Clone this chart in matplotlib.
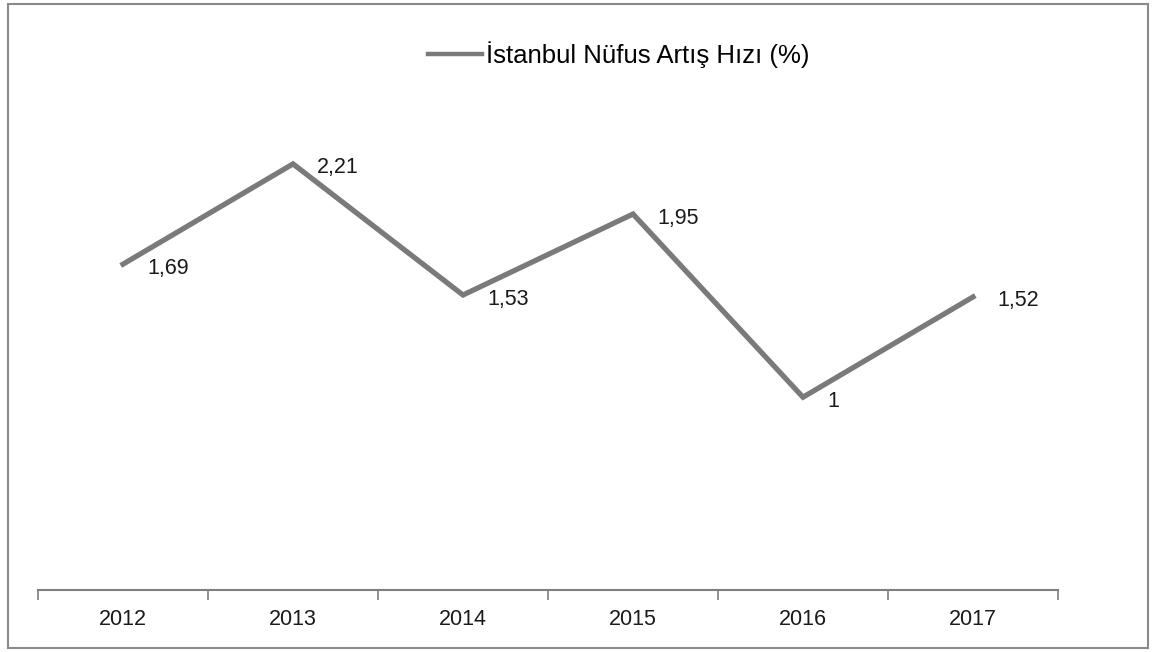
import matplotlib
matplotlib.use("Agg")
import matplotlib.pyplot as plt
from matplotlib.patches import Rectangle

years = ["2012", "2013", "2014", "2015", "2016", "2017"]
values = [1.69, 2.21, 1.53, 1.95, 1.00, 1.52]
labels = ["1,69", "2,21", "1,53", "1,95", "1", "1,52"]
series_name = "İstanbul Nüfus Artış Hızı (%)"

plt.rcParams['font.family'] = ['Liberation Sans', 'DejaVu Sans']

W, H = 1152, 652
fig = plt.figure(figsize=(W/100, H/100), dpi=100)
fig.patch.set_facecolor('white')
fig.add_artist(Rectangle((8/W, 4/H), 1140/W, 644/H, transform=fig.transFigure,
                         fill=False, edgecolor='#8a8a8a', linewidth=1.5))

ax_left, ax_right = 38, 1058
ax_bottom, ax_top = 590, 108
ax = fig.add_axes([ax_left/W, (H-ax_bottom)/H, (ax_right-ax_left)/W, (ax_bottom-ax_top)/H])
x = list(range(len(years)))
line, = ax.plot(x, values, color='#7a7a7a', linewidth=3.8, solid_joinstyle='miter',
                label=series_name)
for xi, v, lab in zip(x, values, labels):
    ax.annotate(lab, (xi, v), xytext=(24, -4), textcoords='offset pixels',
                ha='left', va='center', fontsize=15.5, color='#1a1a1a')

ax.set_xlim(-0.5, len(years) - 0.5)
ax.set_ylim(0, 2.5)
ax.set_yticks([])
for s in ['top', 'right', 'left']:
    ax.spines[s].set_visible(False)
ax.spines['bottom'].set_color('#7f7f7f')
ax.spines['bottom'].set_linewidth(1.5)
ax.set_xticks(x)
ax.set_xticklabels(years, fontsize=15.5, color='#1a1a1a')
ax.tick_params(axis='x', which='major', length=0, pad=14)
ax.set_xticks([i - 0.5 for i in range(len(years) + 1)], minor=True)
ax.tick_params(axis='x', which='minor', length=7, width=1.2, color='#7f7f7f', direction='out')
ax.patch.set_alpha(0)

leg = fig.legend(handles=[line], labels=[series_name], loc='center', bbox_to_anchor=(619/W, (H-55)/H),
           frameon=False, fontsize=18.5, handlelength=2.1, handletextpad=0.15)
for h in leg.legend_handles:
    h.set_linewidth(3.2)

fig.savefig("out.png", dpi=100)
